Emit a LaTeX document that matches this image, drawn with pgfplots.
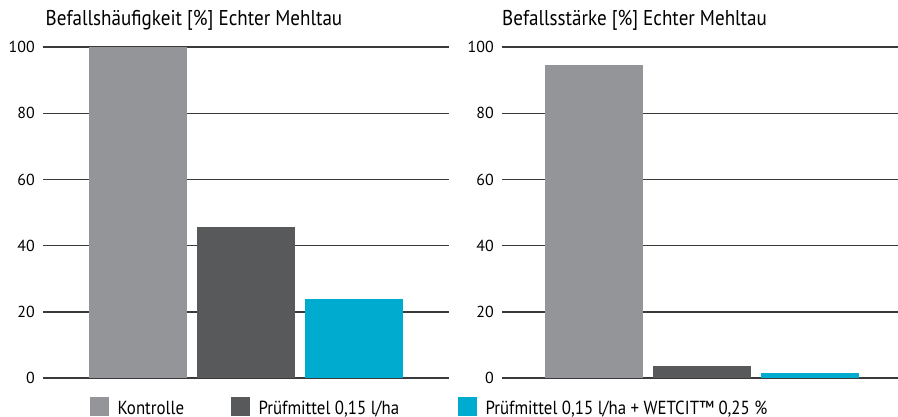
\documentclass[border=0pt]{standalone}
\usepackage{fontspec}
\setmainfont{PT Sans}[FakeStretch=0.89]
\newfontfamily\tickfont{PT Sans}
\usepackage{pgfplots}
\pgfplotsset{compat=1.18}
\definecolor{cGray}{HTML}{939598}
\definecolor{cDark}{HTML}{58595B}
\definecolor{cCyan}{HTML}{00ABD0}
\definecolor{cGrid}{HTML}{3A3A3A}
\pgfplotsset{panel/.style={
  scale only axis, anchor=south west, height=330.9bp,
  ymin=0, ymax=100, ytick={0,20,...,100},
  xtick=\empty, axis line style={draw=none}, major tick length=0pt,
  ymajorgrids, grid style={cGrid, line width=1.4bp},
  ybar, bar width=0.9074, bar shift=0pt,
  /pgf/number format/assume math mode=true,
  yticklabel style={font=\tickfont\fontsize{16}{17}\selectfont, inner sep=0pt, xshift=-8bp},
  title style={font=\fontsize{21.5}{23}\selectfont, anchor=base west, inner sep=0pt,
    at={(axis description cs:0,1)}, yshift=15.6bp},
  clip=false,
}}
\pgfplotsset{sq/.style={draw=none, fill=#1,
  legend image code/.code={\fill[#1] (0bp,-7.7bp) rectangle (19bp,11.3bp);}}}
\begin{document}
\begin{tikzpicture}
\useasboundingbox (0,0) rectangle (898bp,-417bp);
\begin{axis}[panel, at={(43bp,-378bp)}, width=406bp, xmin=-0.8796, xmax=2.8796,
  title={Befallshäufigkeit [\%] Echter Mehltau}, title style={xshift=2.5bp},
  legend columns=3, legend cell align=left,
  legend style={draw=none, fill=none, inner sep=0pt, outer sep=0pt,
    at={(axis description cs:0,0)}, xshift=47bp, yshift=-19bp, anchor=north west,
    font=\fontsize{19}{21}\selectfont,
    nodes={inner sep=0pt},
    /tikz/every odd column/.style={column sep=8.5bp},
    /tikz/every even column/.style={column sep=0pt}},
]
\addplot[sq=cGray] coordinates {(0,100)};
\addlegendentry{\makebox[113.5bp][l]{Kontrolle}}
\addplot[sq=cDark] coordinates {(1,45.6)};
\addlegendentry{\makebox[199.5bp][l]{Prüfmittel 0,15 l/ha}}
\addplot[sq=cCyan] coordinates {(2,23.9)};
\addlegendentry{Prüfmittel 0,15 l/ha + WETCIT™ 0,25 \%}
\end{axis}
\begin{axis}[panel, at={(502bp,-378bp)}, width=396bp, xmin=-0.8519, xmax=2.8148,
  title={Befallsstärke [\%] Echter Mehltau}, title style={xshift=0bp}]
\addplot[sq=cGray] coordinates {(0,94.6)};
\addplot[sq=cDark] coordinates {(1,3.6)};
\addplot[sq=cCyan] coordinates {(2,1.5)};
\end{axis}
\end{tikzpicture}
\end{document}
